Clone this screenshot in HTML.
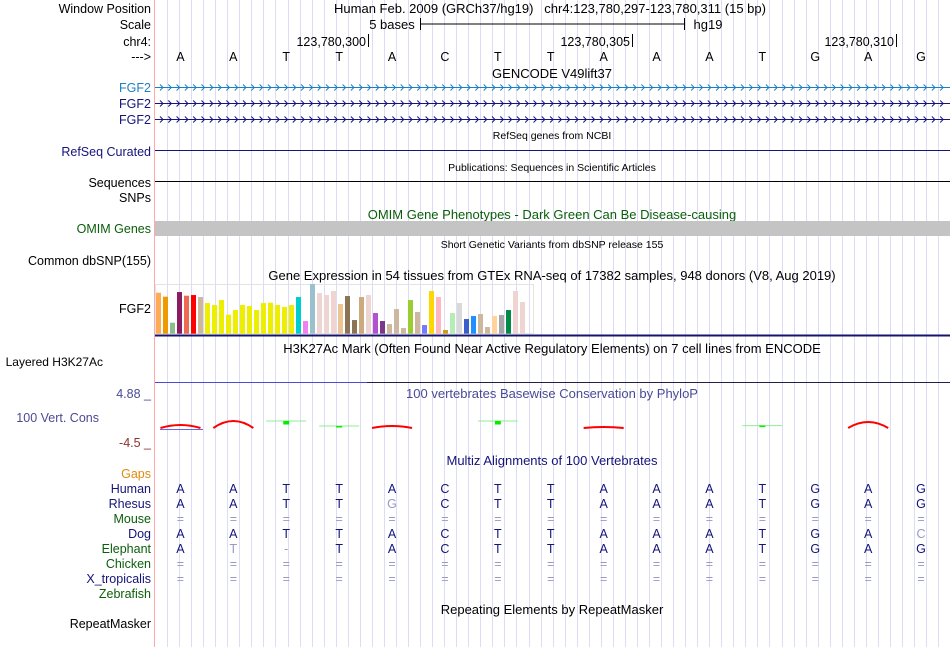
<!DOCTYPE html>
<html><head><meta charset="utf-8">
<style>
html,body{margin:0;padding:0;background:#fff;}
body{width:950px;height:647px;overflow:hidden;position:relative;font-family:"Liberation Sans",sans-serif;}
svg{position:absolute;left:0;top:0;}
text{font-family:"Liberation Sans",sans-serif;}
</style></head>
<body>
<svg id="s" width="950" height="647">
<g id="guides"></g>
<line x1="154.5" y1="0" x2="154.5" y2="647" stroke="#ffaaaa"/>
<g font-size="12.5" text-anchor="end" id="labels">
<text x="151" y="13" fill="#000">Window Position</text>
<text x="151" y="29" fill="#000">Scale</text>
<text x="151" y="46" fill="#000">chr4:</text>
<text x="151" y="61" fill="#000">---&gt;</text>
<text x="151" y="92" fill="#1c7fc0">FGF2</text>
<text x="151" y="108" fill="#14147a">FGF2</text>
<text x="151" y="124" fill="#14147a">FGF2</text>
<text x="151" y="156" fill="#14147a">RefSeq Curated</text>
<text x="151" y="187" fill="#000">Sequences</text>
<text x="151" y="202" fill="#000">SNPs</text>
<text x="151" y="233" fill="#0a5e0a">OMIM Genes</text>
<text x="151" y="265" fill="#000">Common dbSNP(155)</text>
<text x="151" y="313" fill="#000">FGF2</text>
<text x="103" y="366" fill="#000" font-size="12">Layered H3K27Ac</text>
<text x="151" y="398" fill="#4a4a94">4.88 _</text>
<text x="99" y="422" fill="#4a4a94">100 Vert. Cons</text>
<text x="151" y="447" fill="#8b2f2f">-4.5 _</text>
<text x="151" y="478" fill="#e08a10">Gaps</text>
<text x="151" y="493" fill="#14147a">Human</text>
<text x="151" y="508" fill="#14147a">Rhesus</text>
<text x="151" y="523" fill="#0a5e0a">Mouse</text>
<text x="151" y="538" fill="#14147a">Dog</text>
<text x="151" y="553" fill="#0a5e0a">Elephant</text>
<text x="151" y="568" fill="#0a5e0a">Chicken</text>
<text x="151" y="583" fill="#14147a">X_tropicalis</text>
<text x="151" y="598" fill="#0a5e0a">Zebrafish</text>
<text x="151" y="628" fill="#000">RepeatMasker</text>
</g>
<g font-size="13" text-anchor="middle" fill="#000">
<text x="550" y="13">Human Feb. 2009 (GRCh37/hg19)&#160;&#160;&#160;chr4:123,780,297-123,780,311 (15 bp)</text>
<text x="392" y="29">5 bases</text>
<text x="708" y="29">hg19</text>
<text x="552" y="78">GENCODE V49lift37</text>
<text x="552" y="139" font-size="10.5">RefSeq genes from NCBI</text>
<text x="552" y="171" font-size="10.5">Publications: Sequences in Scientific Articles</text>
<text x="552" y="219" fill="#0a5e0a">OMIM Gene Phenotypes - Dark Green Can Be Disease-causing</text>
<text x="552" y="248" font-size="10.5">Short Genetic Variants from dbSNP release 155</text>
<text x="552" y="280">Gene Expression in 54 tissues from GTEx RNA-seq of 17382 samples, 948 donors (V8, Aug 2019)</text>
<text x="552" y="353">H3K27Ac Mark (Often Found Near Active Regulatory Elements) on 7 cell lines from ENCODE</text>
<text x="552" y="398" fill="#4a4a94">100 vertebrates Basewise Conservation by PhyloP</text>
<text x="552" y="465" fill="#14147a">Multiz Alignments of 100 Vertebrates</text>
<text x="552" y="614">Repeating Elements by RepeatMasker</text>
</g>
<g stroke="#000">
<line x1="420" y1="24" x2="684" y2="24"/><line x1="420.5" y1="18" x2="420.5" y2="30"/><line x1="684.5" y1="18" x2="684.5" y2="30"/>
</g>
<g font-size="12.5" text-anchor="end">
<text x="366" y="46">123,780,300</text><line x1="368.5" y1="34" x2="368.5" y2="47" stroke="#000"/>
<text x="630" y="46">123,780,305</text><line x1="632.5" y1="34" x2="632.5" y2="47" stroke="#000"/>
<text x="894" y="46">123,780,310</text><line x1="896.5" y1="34" x2="896.5" y2="47" stroke="#000"/>
</g>
<g id="bases" font-size="12.5" text-anchor="middle"></g>
<g id="genes"></g>
<line x1="155" y1="150.5" x2="950" y2="150.5" stroke="#14147a"/>
<line x1="155" y1="181.5" x2="950" y2="181.5" stroke="#000"/>
<rect x="155" y="221" width="795" height="15" fill="#c4c4c4"/>
<rect x="155.5" y="284.5" width="378" height="49" fill="none" stroke="#e4e4e4"/>
<g id="gtex"></g>
<line x1="155" y1="335.5" x2="950" y2="335.5" stroke="#14146e" stroke-width="2"/>
<line x1="155" y1="382.5" x2="367" y2="382.5" stroke="#4b4bd8"/>
<line x1="367" y1="382.5" x2="950" y2="382.5" stroke="#222244"/>
<line x1="160" y1="429.5" x2="203" y2="429.5" stroke="#6666dd"/>
<g id="cons"></g>
<g id="multiz" font-size="12.5" text-anchor="middle"></g>
</svg>
<script>
const NS="http://www.w3.org/2000/svg";
function mk(tag,attrs,parent){const e=document.createElementNS(NS,tag);for(const k in attrs)e.setAttribute(k,attrs[k]);parent.appendChild(e);return e;}
const X0=154,BW=52.9;
function bx(i){return X0+BW*(i+0.5);}
const g=document.getElementById('guides');
for(let x=167;x<950;x+=12.05){const l=mk('line',{x1:Math.round(x)+.5,y1:0,x2:Math.round(x)+.5,y2:647,stroke:'#dcdcf4'},g);

}
const seq="AATTACTTAAATGAG";
const bg=document.getElementById('bases');
for(let i=0;i<seq.length;i++){const t=mk('text',{x:bx(i),y:61},bg);t.textContent=seq[i];

}
const gg=document.getElementById('genes');
const geneYs=[87,103,119],geneCols=['#1c7fc0','#14147a','#14147a'];
geneYs.forEach((y,k)=>{const l=mk('line',{x1:155,y1:y+.5,x2:950,y2:y+.5,stroke:geneCols[k]},gg);


let d='';for(let x=160;x<948;x+=8.3){d+=`M${x.toFixed(1)} ${y-2.5}L${(x+3).toFixed(1)} ${y+.5}L${x.toFixed(1)} ${y+3.5}`;}
const p=mk('path',{d:d,stroke:geneCols[k],fill:'none','stroke-width':1},gg);

});
const gtexValues=[123,111,33,125,114,116,110,92,86,101,57,71,86,83,71,92,93,86,80,86,110,38,149,122,116,128,89,113,41,110,116,62,38,29,74,17,101,65,26,128,110,11,62,92,44,53,59,20,53,56,71,128,95];
const gtexColors=['#ffaa55','#ee9a00','#8fbc8f','#8b1c62','#ee6a50','#ff0000','#cdb79e','#eeee00','#eeee00','#eeee00','#eeee00','#eeee00','#eeee00','#eeee00','#eeee00','#eeee00','#eeee00','#eeee00','#eeee00','#eeee00','#00cdcd','#ee82ee','#9ac0cd','#eed5d2','#eed5d2','#eed5d2','#eec591','#8b7355','#8b7355','#cdaa7d','#eed5d2','#b452cd','#7a378b','#cdb79e','#cdb79e','#cdb79e','#9acd32','#cdb79e','#7777ff','#ffd700','#ffb6c1','#cd9b1d','#b4eeb4','#d9d9d9','#3a5fcd','#1e90ff','#cdb79e','#cdb79e','#ffd39b','#a6a6a6','#008b45','#eed5d2','#eed5d2'];
const gtexMax=150;
const gx=document.getElementById('gtex');
function gy(v){return 333.7-v/gtexMax*50;}
gtexValues.forEach((v,i)=>{const r=mk('rect',{x:156+i*7,y:gy(v),width:5,height:333.7-gy(v),fill:gtexColors[i]},gx);

});
const phyloScores=[-0.3,-0.7,0.35,0.1,-0.2,null,0.35,null,-0.1,null,null,0.12,null,-0.6,null];
const cg=document.getElementById('cons');
const BASE_Y=428;
phyloScores.forEach((v,i)=>{if(v===null)return;const x0=bx(i)-20,x1=bx(i)+20,c=bx(i);
if(v<0){const h=Math.abs(v)*10;
const p=mk('path',{d:`M${x0} ${BASE_Y}Q${c} ${BASE_Y-2*h} ${x1} ${BASE_Y}`,stroke:'#ff0000',fill:'none','stroke-width':2},cg);

}
else{const y=BASE_Y-v*20;const l=mk('line',{x1:x0,y1:y,x2:x1,y2:y,stroke:'#90ee90'},cg);


const r=mk('rect',{x:c-3,y:y,width:6,height:Math.max(1.5,v*10),fill:'#00ee00'},cg);

}});
const rows=[["AATTACTTAAATGAG",493,""],["AATTGCTTAAATGAG",508,"....G.........."],["===============",523,"all"],["AATTACTTAAATGAC",538,"..............C"],["AT-TACTTAAATGAG",553,".T-............"],["===============",568,"all"],["===============",583,"all"]];
const mg=document.getElementById('multiz');
rows.forEach(r=>{for(let i=0;i<15;i++){const ch=r[0][i];const grey=r[2]==='all'||(r[2][i]&&r[2][i]!=='.');
const t=mk('text',{x:bx(i),y:r[1],fill:grey?'#9999c4':'#14147a'},mg);t.textContent=ch;

}});
</script>
</body></html>
